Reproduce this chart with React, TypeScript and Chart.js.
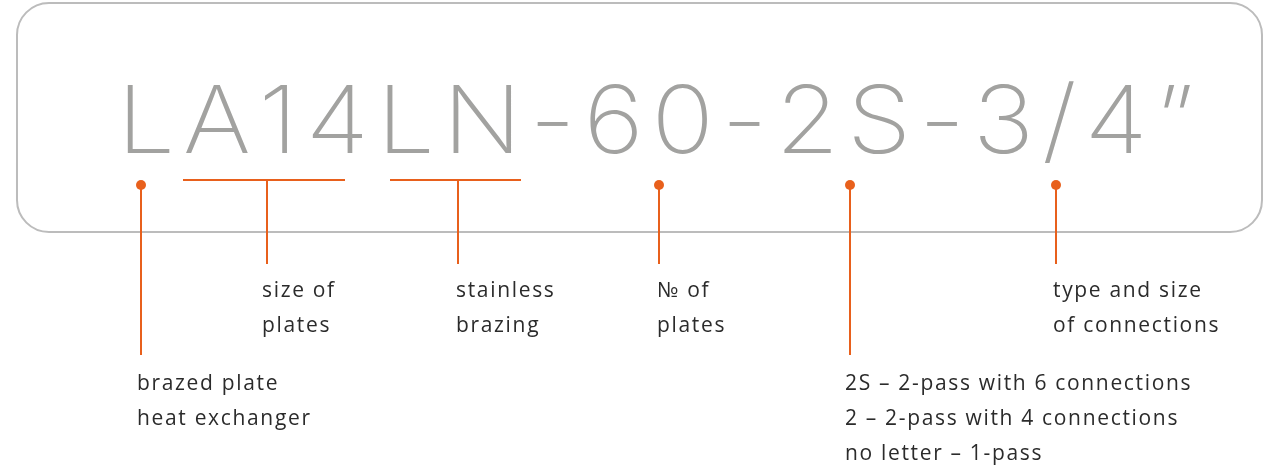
import React, { useEffect, useRef } from "react";
import { Chart, registerables } from "chart.js";

Chart.register(...registerables);

const W = 1271;
const H = 473;

// model code shown in the frame
const modelCode = "LA14LN-60-2S-3/4\u201D";

// single-point callouts (dot + stem)
const dotX = [141, 659, 850, 1056];
const dotStemEnd = [355, 264, 355, 264];

// bracket callouts (horizontal bar + stem)
const bracketFrom = [183, 390];
const bracketTo = [345, 521];
const bracketStemX = [267, 458];
const bracketStemEnd = [264, 264];

// label blocks
const labelLines = [
  ["size of", "plates"],
  ["stainless", "brazing"],
  ["\u2116 of", "plates"],
  ["type and size", "of connections"],
  ["brazed plate", "heat exchanger"],
  ["2S \u2013 2-pass with 6 connections", "2 \u2013 2-pass with 4 connections", "no letter \u2013 1-pass"],
];
const labelX = [262, 456, 657, 1053, 137, 845];
const labelY = [297, 297, 297, 297, 390, 390];

const ORANGE = "#e8601c";
const GRAY = "#a2a2a0";
const FRAME = "#bcbcbc";
const TEXT = "#2b2b2b";

export default function App() {
  const ref = useRef<HTMLCanvasElement | null>(null);

  useEffect(() => {
    document.body.style.margin = "0";
    document.body.style.background = "#ffffff";
    const canvas = ref.current;
    if (!canvas) return;

    const datasets: any[] = [];
    dotX.forEach((x, i) => {
      datasets.push({
        data: [{ x, y: 185 }, { x, y: dotStemEnd[i] }],
        showLine: true,
        borderColor: ORANGE,
        borderWidth: 2,
        pointRadius: 0,
      });
    });
    bracketFrom.forEach((x0, i) => {
      datasets.push({
        data: [{ x: x0, y: 180 }, { x: bracketTo[i], y: 180 }],
        showLine: true,
        borderColor: ORANGE,
        borderWidth: 2,
        pointRadius: 0,
      });
      datasets.push({
        data: [{ x: bracketStemX[i], y: 180 }, { x: bracketStemX[i], y: bracketStemEnd[i] }],
        showLine: true,
        borderColor: ORANGE,
        borderWidth: 2,
        pointRadius: 0,
      });
    });
    datasets.push({
      data: dotX.map((x) => ({ x, y: 185 })),
      showLine: false,
      pointRadius: 5,
      pointBackgroundColor: ORANGE,
      pointBorderWidth: 0,
      borderColor: ORANGE,
    });

    const framePlugin = {
      id: "frame",
      beforeDatasetsDraw(chart: any) {
        const { ctx, scales } = chart;
        const x0 = scales.x.getPixelForValue(17);
        const x1 = scales.x.getPixelForValue(1262);
        const y0 = scales.y.getPixelForValue(3);
        const y1 = scales.y.getPixelForValue(232);
        ctx.save();
        ctx.strokeStyle = FRAME;
        ctx.lineWidth = 2;
        ctx.beginPath();
        (ctx as any).roundRect(x0, y0, x1 - x0, y1 - y0, 32);
        ctx.stroke();
        ctx.restore();
      },
    };

    const textPlugin = {
      id: "texts",
      afterDatasetsDraw(chart: any) {
        const { ctx, scales } = chart;
        ctx.save();
        // model code
        ctx.fillStyle = GRAY;
        ctx.textBaseline = "alphabetic";
        ctx.textAlign = "left";
        ctx.font = "200 94px Inter, 'Noto Sans', sans-serif";
        (ctx as any).letterSpacing = "0px";
        const stretch = 1.1;
        const chars = Array.from(modelCode);
        const raw = ctx.measureText(modelCode).width * stretch;
        const left = scales.x.getPixelForValue(117);
        const right = scales.x.getPixelForValue(1186);
        const sp = (right - left - raw) / (chars.length - 1);
        let cx = left;
        const by = scales.y.getPixelForValue(153);
        chars.forEach((c) => {
          ctx.save();
          ctx.translate(cx, by);
          ctx.scale(stretch, 1);
          ctx.fillText(c, 0, 0);
          ctx.restore();
          cx += ctx.measureText(c).width * stretch + sp;
        });

        // labels
        ctx.fillStyle = TEXT;
        ctx.font = "500 21px 'Open Sans', sans-serif";
        const base = ctx.measureText("heat exchanger").width;
        const ls = (173 - base) / 13;
        (ctx as any).letterSpacing = ls.toFixed(2) + "px";
        labelLines.forEach((lines, i) => {
          lines.forEach((t, j) => {
            ctx.fillText(
              t,
              scales.x.getPixelForValue(labelX[i]),
              scales.y.getPixelForValue(labelY[i] + j * 35)
            );
          });
        });
        ctx.restore();
      },
    };

    const chart = new Chart(canvas, {
      type: "scatter",
      data: { datasets },
      options: {
        animation: false,
        responsive: false,
        maintainAspectRatio: false,
        layout: { padding: 0, autoPadding: false },
        plugins: { legend: { display: false }, tooltip: { enabled: false } },
        scales: {
          x: { type: "linear", min: 0, max: W, display: false },
          y: { type: "linear", min: 0, max: H, reverse: true, display: false },
        },
      },
      plugins: [framePlugin, textPlugin],
    });
    return () => chart.destroy();
  }, []);

  return (
    <div style={{ width: W, height: H, background: "#fff" }}>
      <canvas ref={ref} width={W} height={H} style={{ display: "block", width: W, height: H }} />
    </div>
  );
}
